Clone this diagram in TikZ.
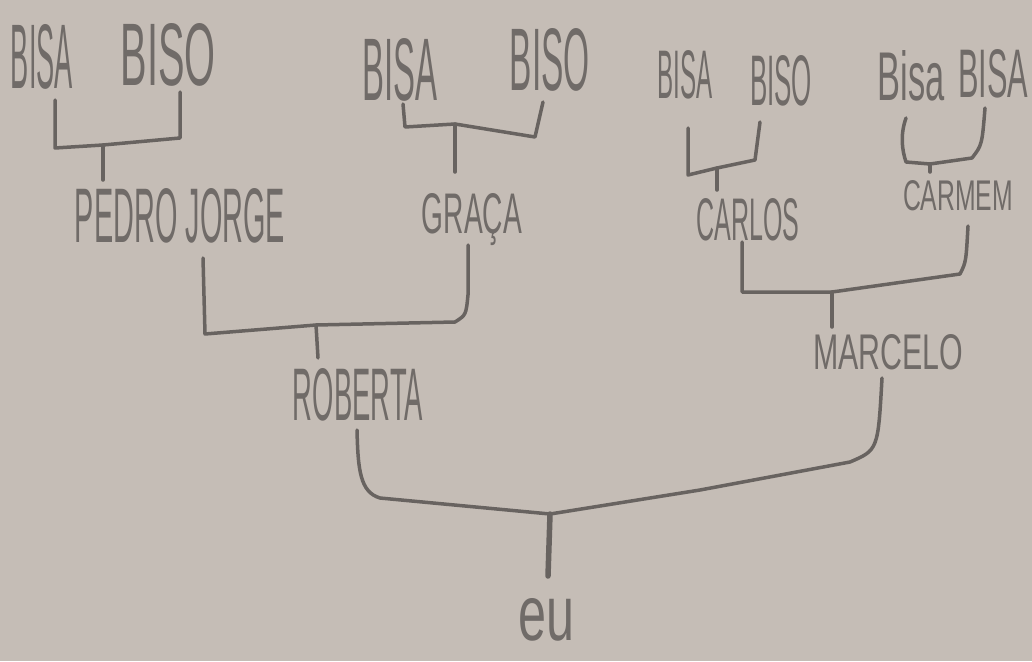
\documentclass[tikz,border=0pt]{standalone}
\usepackage{fontspec}
\setmainfont{Liberation Sans}
\usepackage{graphicx}
\definecolor{paper}{RGB}{197,189,182}
\definecolor{pencil}{RGB}{104,99,96}
\definecolor{ink}{RGB}{112,107,104}
\newcommand\hw[3]{\resizebox{#1pt}{#2pt}{#3}}
\begin{document}
\begin{tikzpicture}[x=1pt,y=-1pt,
  lbl/.style={inner sep=0pt, anchor=base, text=ink},
  link/.style={draw=pencil, line width=3.5pt, line cap=round, line join=round}]
\fill[paper] (0,0) rectangle (1032,661);
\useasboundingbox (0,0) rectangle (1032,661);

% ---- great-grandparents ----
\node[lbl] (bisaA) at (42,88)  {\hw{62}{64}{BISA}};
\node[lbl] (bisoA) at (168,85) {\hw{95}{62}{BISO}};
\node[lbl] (bisaB) at (400,100){\hw{75}{62}{BISA}};
\node[lbl] (bisoB) at (550,90) {\hw{80}{62}{BISO}};
\node[lbl] (bisaC) at (685,98) {\hw{55}{48}{BISA}};
\node[lbl] (bisoC) at (781,105){\hw{62}{50}{BISO}};
\node[lbl] (bisaD) at (911,100){\hw{67}{50}{Bisa}};
\node[lbl] (bisaE) at (993,97) {\hw{70}{48}{BISA}};

% ---- grandparents ----
\node[lbl] (pedro)  at (180,242) {\hw{210}{54}{PEDRO JORGE}};
\node[lbl] (graca)  at (472,233) {\hw{100}{40}{GRAÇA}};
\node[lbl] (carlos) at (748,240) {\hw{103}{42}{CARLOS}};
\node[lbl] (carmem) at (958,210) {\hw{110}{30}{CARMEM}};

% ---- parents ----
\node[lbl] (roberta) at (358,420) {\hw{130}{52}{ROBERTA}};
\node[lbl] (marcelo) at (888,369) {\hw{150}{35}{MARCELO}};

% ---- me ----
\node[lbl] (eu) at (546,640) {\hw{56}{42}{eu}};

% ---- bracket coordinates ----
\coordinate (a1) at (55,100);   \coordinate (a2) at (180,92);  \coordinate (am) at (103,145);
\coordinate (b1) at (403,104);  \coordinate (b2) at (543,102); \coordinate (bm) at (455,124);
\coordinate (c1) at (688,128);  \coordinate (c2) at (760,122); \coordinate (cm) at (717,168);
\coordinate (d1) at (906,118);  \coordinate (d2) at (985,108); \coordinate (dm) at (930,164);
\coordinate (r1) at (203,258);  \coordinate (r2) at (468,245); \coordinate (rm) at (316,325);
\coordinate (m1) at (742,242);  \coordinate (m2) at (968,226); \coordinate (mm) at (832,292);
\coordinate (e1) at (357,430);  \coordinate (e2) at (882,378); \coordinate (em) at (550,514);

% ---- brackets ----
\draw[link] (a1) -- (55,148) -- (am) -- (180,138) -- (a2);
\draw[link] (am) -- (103,180);

\draw[link] (b1) -- (405,127) -- (bm) -- (535,137) -- (b2);
\draw[link] (bm) -- (455,172);

\draw[link] (c1) -- (688,175) -- (cm) -- (755,160) -- (c2);
\draw[link] (cm) -- (717,190);

\draw[link] (d1) .. controls (900,135) and (902,150) .. (906,162) -- (dm) -- (972,158) .. controls (982,145) .. (d2);
\draw[link] (dm) -- (930,172);

\draw[link] (r1) -- (205,334) -- (rm) -- (455,322) .. controls (466,315) .. (468,295) -- (r2);
\draw[link] (rm) -- (318,358);

\draw[link] (m1) -- (742,292) -- (mm) -- (960,274) .. controls (966,262) .. (m2);
\draw[link] (mm) -- (832,327);

\draw[link] (e1) .. controls (358,470) and (360,492) .. (380,498) -- (em) -- (700,490) -- (850,462) .. controls (878,450) .. (e2);
\draw[link, line width=5.5pt] (em) -- (548,576);
\end{tikzpicture}
\end{document}
